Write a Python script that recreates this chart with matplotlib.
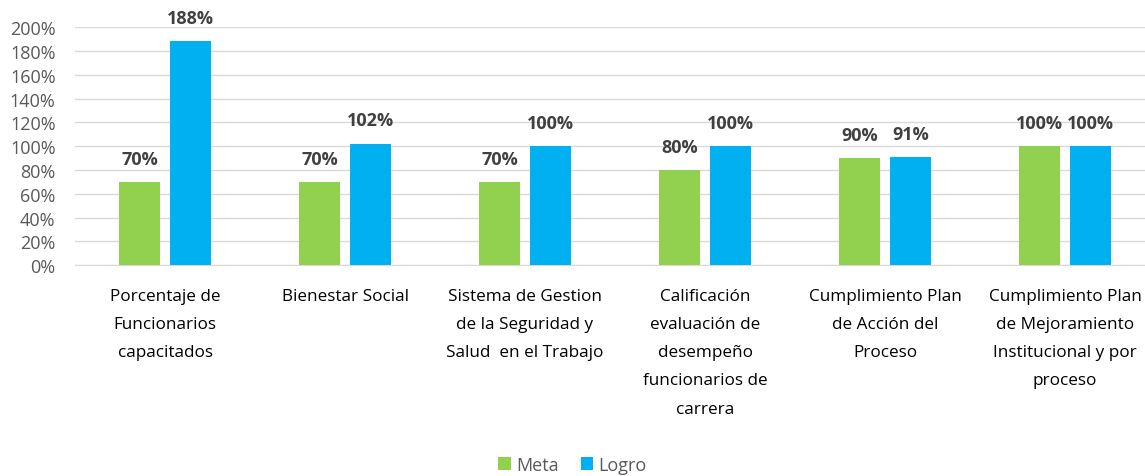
import numpy as np
import matplotlib
matplotlib.use("Agg")
import matplotlib.pyplot as plt
from matplotlib.ticker import PercentFormatter

plt.rcParams['font.family'] = ['Open Sans', 'DejaVu Sans']

categories = [
    "Porcentaje de\nFuncionarios\ncapacitados",
    "Bienestar Social",
    "Sistema de Gestion\nde la Seguridad y\nSalud  en el Trabajo",
    "Calificación\nevaluación de\ndesempeño\nfuncionarios de\ncarrera",
    "Cumplimiento Plan\nde Acción del\nProceso",
    "Cumplimiento Plan\nde Mejoramiento\nInstitucional y por\nproceso",
]
meta = [70, 70, 70, 80, 90, 100]
logro = [188, 102, 100, 100, 91, 100]

GREEN = "#92D050"
BLUE = "#00B0F0"
GRAY = "#595959"

fig = plt.figure(figsize=(11.45, 4.77), dpi=100)
ax = fig.add_axes([0.0655, 0.442, 0.9345, 0.499])

x = np.arange(len(categories))
w = 0.228
off = 0.142
b1 = ax.bar(x - off, meta, w, color=GREEN, label="Meta", zorder=3)
b2 = ax.bar(x + off, logro, w, color=BLUE, label="Logro", zorder=3)

for bars, vals in ((b1, meta), (b2, logro)):
    for rect, v in zip(bars, vals):
        ax.text(rect.get_x() + rect.get_width() / 2, v + 12, f"{v}%",
                ha="center", va="bottom", fontsize=13, fontweight="bold",
                color="#404040")

ax.set_xlim(-0.5, 5.444)
ax.set_ylim(0, 200)
ax.set_yticks(range(0, 201, 20))
ax.yaxis.set_major_formatter(PercentFormatter(decimals=0))
ax.grid(True, axis="y", color="#D9D9D9", linewidth=1, zorder=0)
for s in ["top", "right", "left"]:
    ax.spines[s].set_visible(False)
ax.spines["bottom"].set_color("#D9D9D9")
ax.tick_params(axis="y", length=0, labelsize=13, labelcolor=GRAY, pad=14)
ax.tick_params(axis="x", length=0, pad=0)
ax.set_xticks(x)
ax.set_xticklabels([])

for xi, lab in zip(x, categories):
    ax.text(xi, -19, lab, ha="center", va="top", fontsize=12.3, color="#000000",
            linespacing=2.02, transform=ax.transData, clip_on=False)

leg = fig.legend(loc="lower center", bbox_to_anchor=(0.5, -0.03), ncol=2, frameon=False,
                 fontsize=13, handlelength=0.7, handleheight=0.7, handletextpad=0.3,
                 columnspacing=1.2)
for t in leg.get_texts():
    t.set_color(GRAY)

fig.savefig("out.png", dpi=100)
